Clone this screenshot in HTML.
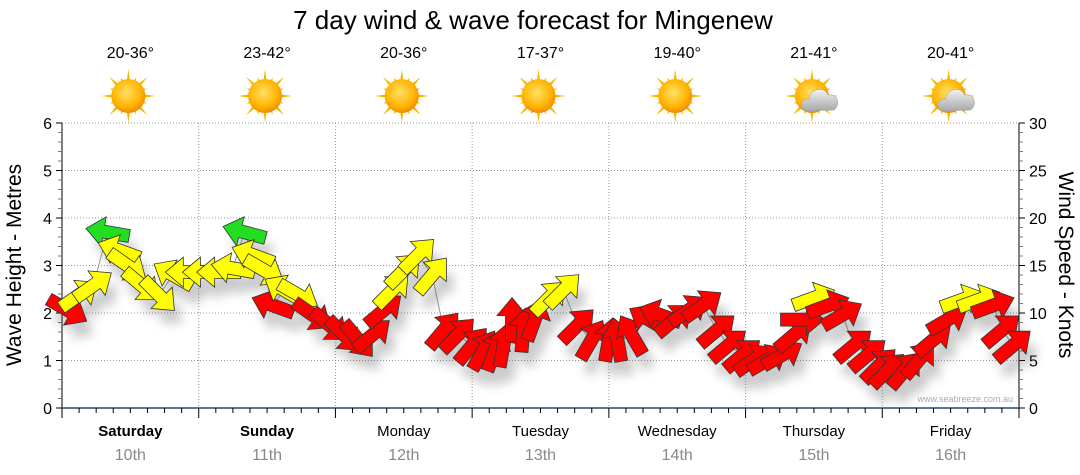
<!DOCTYPE html>
<html><head><meta charset="utf-8"><style>
html,body{margin:0;padding:0;background:#fff;}
svg{display:block;font-family:"Liberation Sans","DejaVu Sans",sans-serif;}
</style></head><body>
<svg id="chart" width="1080" height="475" viewBox="0 0 1080 475">
<defs>
<radialGradient id="sunG" cx="45%" cy="40%" r="60%"><stop offset="0" stop-color="#ffe066"/><stop offset="0.7" stop-color="#ffb400"/><stop offset="1" stop-color="#f08c00"/></radialGradient>
<linearGradient id="cloudG" x1="0" y1="0" x2="0" y2="1"><stop offset="0" stop-color="#f2f2f2"/><stop offset="1" stop-color="#a8a8a8"/></linearGradient>
<filter id="shadow" x="-50%" y="-50%" width="200%" height="200%"><feGaussianBlur stdDeviation="5"/></filter>
</defs>
<text x="533" y="29" text-anchor="middle" font-size="26" fill="#000">7 day wind &amp; wave forecast for Mingenew</text>
<g id="plot"></g>
<text x="1013" y="402" text-anchor="end" font-size="9" fill="#aab">www.seabreeze.com.au</text>
<text transform="translate(21,265) rotate(-90)" text-anchor="middle" font-size="21" fill="#000">Wave Height - Metres</text>
<text transform="translate(1059,265) rotate(90)" text-anchor="middle" font-size="21" fill="#000">Wind Speed - Knots</text>
</svg>
<script>
const dayNames = ["Saturday","Sunday","Monday","Tuesday","Wednesday","Thursday","Friday"];
const dayDates = ["10th","11th","12th","13th","14th","15th","16th"];
const tempRanges = ["20-36°","23-42°","20-36°","17-37°","19-40°","21-41°","20-41°"];
const weatherIcons = ["sun","sun","sun","sun","sun","cloud","cloud"];
const leftTicks = [0,1,2,3,4,5,6];
const rightTicks = [0,5,10,15,20,25,30];
const windHours = [1,3,5.5,8,10,11.5,14,17,19.5,22,25,27.5,30,32,33.5,35.5,37,39,41.5,44,47,49.5,52,54.5,56.5,58,60,62.5,65,67,69.5,72,74,76,77.5,79,81,83,85.5,88,90.5,93,96,97.5,100,103,105,107.5,110,112.5,115,117,119.5,121.5,124,126.5,128.5,130,132,134.5,137,139,141.5,143.5,145,148,150.5,153,155.5,158,161,163.5,165,167];
const windKnots = [10.3,11.9,12.9,18.5,16.6,15,12.9,11.9,14,14.3,14.3,14.3,14.7,18.5,16.1,14.5,10.8,12.4,11.9,9.8,8.7,7.7,7.2,7.7,10.3,12.4,14.5,16.1,14,8.2,7.7,6.6,6.1,6.1,6.6,9.3,8.2,9.3,11.6,12.4,8.7,7.2,7.2,7.2,7.7,9.3,9.8,9.3,10.3,10.8,8.2,6.6,5.6,5.1,5.1,5.6,7.7,9.3,11.6,10.8,9.8,6.6,5.6,4.5,4,4,5.1,7.2,9.3,11.4,11.4,10.8,8.2,6.6];
const windHeading = [30,-35,-35,-170,-160,35,40,45,-150,180,180,180,-170,-165,-160,30,-160,-150,30,35,40,45,50,-40,-40,-45,-45,-45,-50,-50,-45,-50,-60,-70,-80,-90,-85,-70,-45,-45,-45,-60,-80,-100,-120,-150,-160,-40,-35,-35,-40,-40,-40,-35,-30,-30,-40,0,-20,-20,-30,-40,-40,-45,-45,-50,-50,-40,-30,-20,-20,-20,-40,-40];

const NS="http://www.w3.org/2000/svg";
const plot=document.getElementById('plot');
const X0=62,X1=1019,Y0=408,Y1=123,DAYW=(X1-X0)/7;
const xOf=h=>X0+h*DAYW/24;
const yM=m=>Y0-(m/6)*(Y0-Y1);
const yK=k=>Y0-(k/30)*(Y0-Y1);
function mk(tag,attrs,parent){const e=document.createElementNS(NS,tag);for(const k in attrs)e.setAttribute(k,attrs[k]);(parent||plot).appendChild(e);return e;}

const grid=mk('g',{});


leftTicks.forEach(t=>{if(t>0){mk('line',{x1:X0,x2:X1,y1:yM(t),y2:yM(t),stroke:'#999','stroke-dasharray':'1,2','stroke-width':1},grid);}});
for(let d=1;d<7;d++){mk('line',{x1:X0+d*DAYW,x2:X0+d*DAYW,y1:Y1,y2:Y0,stroke:'#999','stroke-dasharray':'1,2','stroke-width':1},grid);}

const la=mk('g',{});


mk('line',{x1:X0,x2:X0,y1:Y1,y2:Y0+6,stroke:'#000'},la);
for(let i=0;i<=30;i++){const y=Y0-i*(Y0-Y1)/30;mk('line',{x1:X0-(i%5==0?6:4),x2:X0,y1:y,y2:y,stroke:i%5==0?'#000':'#777'},la);}
leftTicks.forEach(t=>{const tx=mk('text',{x:X0-10,y:yM(t)+6,'text-anchor':'end','font-size':16,fill:'#000'},la);tx.textContent=t;

});
const ra=mk('g',{});


mk('line',{x1:X1,x2:X1,y1:Y1,y2:Y0,stroke:'#000'},ra);
for(let i=0;i<=30;i++){const y=Y0-i*(Y0-Y1)/30;mk('line',{x1:X1,x2:X1+(i%5==0?6:4),y1:y,y2:y,stroke:i%5==0?'#000':'#777'},ra);}
rightTicks.forEach(t=>{const tx=mk('text',{x:X1+10,y:yK(t)+6,'text-anchor':'start','font-size':16,fill:'#000'},ra);tx.textContent=t;

});
const ba=mk('g',{});


mk('line',{x1:X0,x2:X1,y1:Y0,y2:Y0,stroke:'#1a4f7a','stroke-width':1.5},ba);
for(let i=0;i<=56;i++){const x=X0+i*DAYW/8;mk('line',{x1:x,x2:x,y1:Y0,y2:Y0+(i%8==0?10:5),stroke:'#000'},ba);}
dayNames.forEach((n,i)=>{const cx=X0+(i+0.5)*DAYW;
const t=mk('text',{x:cx,y:436,'text-anchor':'middle','font-size':15,'font-weight':i<2?'bold':'normal',fill:'#000'},ba);t.textContent=n;


const d=mk('text',{x:cx,y:460,'text-anchor':'middle','font-size':16,fill:'#888'},ba);d.textContent=dayDates[i];


const tr=mk('text',{x:cx,y:58,'text-anchor':'middle','font-size':16,fill:'#000'});tr.textContent=tempRanges[i];


const ic=mk('g',{transform:`translate(${cx-2},96)`});


for(let r=0;r<16;r++){const a=r*Math.PI/8,L=r%2?20:27;mk('polygon',{points:`${Math.cos(a-0.13)*14},${Math.sin(a-0.13)*14} ${Math.cos(a)*L},${Math.sin(a)*L} ${Math.cos(a+0.13)*14},${Math.sin(a+0.13)*14}`,fill:'#f5b800'},ic);}
mk('circle',{cx:0,cy:0,r:17,fill:'url(#sunG)'},ic);
if(weatherIcons[i]=='cloud'){mk('path',{d:'M-4,15 C-13,15 -13,2 -3,3 C-2,-8 13,-10 16,-1 C26,-3 29,9 22,14 Z',fill:'url(#cloudG)',stroke:'#999','stroke-width':0.5},ic);}
});

let pts=windHours.map((h,i)=>xOf(h)+','+yK(windKnots[i])).join(' ');
const wl=mk('polyline',{points:pts,fill:'none',stroke:'#999','stroke-width':1});


const sh=mk('g',{filter:'url(#shadow)',opacity:0.3});


const ag=mk('g',{});


const ARROW='M-22,-6.5 L4,-6.5 L4,-15 L22,0 L4,15 L4,6.5 L-22,6.5 Z';
windHours.forEach((h,i)=>{const x=xOf(h),y=yK(windKnots[i]),k=windKnots[i];
const col=k>=18?'#22dd22':k>=11?'#ffff00':'#ff0000';
mk('path',{d:ARROW,transform:`translate(${x+7},${y+14}) rotate(${windHeading[i]})`,fill:'#555'},sh);
const a=mk('path',{d:ARROW,transform:`translate(${x},${y}) rotate(${windHeading[i]})`,fill:col,stroke:'#333','stroke-width':0.8},ag);


});
</script>
</body></html>
